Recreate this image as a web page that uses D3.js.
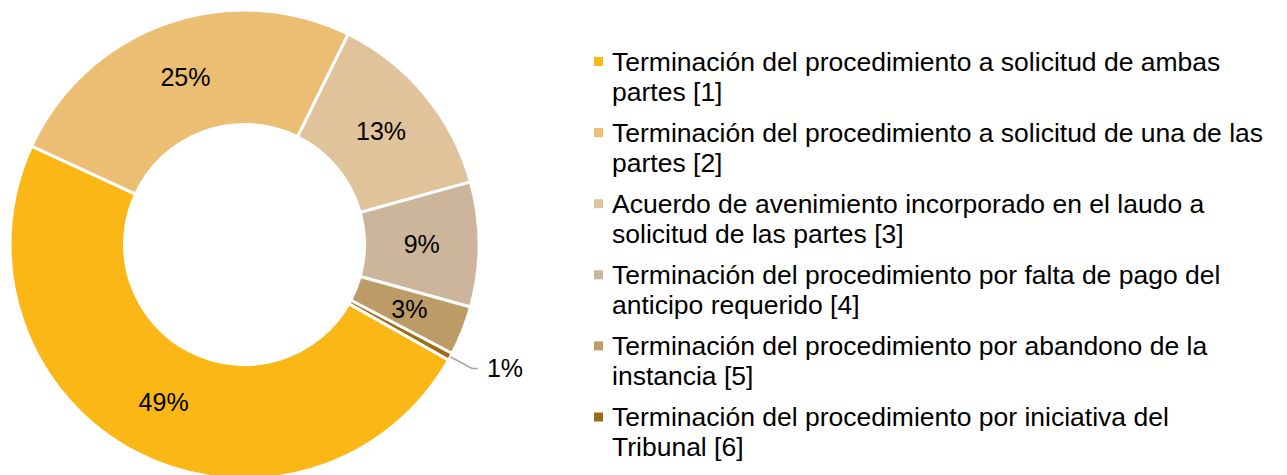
<!DOCTYPE html>
<html>
<head>
<meta charset="utf-8">
<script src="https://cdn.jsdelivr.net/npm/d3@7"></script>
<style>
  html, body { margin: 0; padding: 0; background: #fff; }
  svg { display: block; font-family: "Liberation Sans", Arial, sans-serif; }
</style>
</head>
<body>
<div id="chart"></div>
<script>
// chart data
const categories = [
    'Terminación del procedimiento a solicitud de ambas partes [1]',
    'Terminación del procedimiento a solicitud de una de las partes [2]',
    'Acuerdo de avenimiento incorporado en el laudo a solicitud de las partes [3]',
    'Terminación del procedimiento por falta de pago del anticipo requerido [4]',
    'Terminación del procedimiento por abandono de la instancia [5]',
    'Terminación del procedimiento por iniciativa del Tribunal [6]'
];
const shares = [48.7, 25.4, 13.4, 8.6, 3.4, 0.5];
const colors = ['#FBB715', '#EBBE73', '#E0C39B', '#CCB59B', '#BD9B66', '#9C6B14'];

const width = 1287, height = 475;
const cx = 244.5, cy = 244.5;
const outerR = 234.5, innerR = 120;
const startDeg = 119.5;
const labelFont = 25, legendFont = 26.5;

const svg = d3.select('#chart').append('svg')
    .attr('width', width)
    .attr('height', height);

const pie = d3.pie()
    .sort(null)
    .value(d => d)
    .startAngle(startDeg * Math.PI / 180)
    .endAngle(startDeg * Math.PI / 180 + 2 * Math.PI);

const arc = d3.arc().innerRadius(innerR).outerRadius(outerR);
const total = d3.sum(shares);
const arcs = pie(shares);

const g = svg.append('g').attr('transform', `translate(${cx},${cy})`);

g.selectAll('path.slice')
    .data(arcs)
    .enter()
    .append('path')
    .attr('class', 'slice')
    .attr('d', arc)
    .attr('fill', (d, i) => colors[i])
    .attr('stroke', '#fff')
    .attr('stroke-width', 3)
    .attr('stroke-linejoin', 'round');

// labels: big slices inside, the tiny one outside with a leader line
arcs.forEach((d, i) => {
    const pct = Math.round(d.value / total * 100) + '%';
    if (d.endAngle - d.startAngle > 0.1) {
        const c = arc.centroid(d);
        g.append('text')
            .attr('x', c[0])
            .attr('y', c[1])
            .attr('dy', '0.35em')
            .attr('text-anchor', 'middle')
            .attr('fill', '#000')
            .style('font-size', labelFont + 'px')
            .text(pct);
    } else {
        const mid = (d.startAngle + d.endAngle) / 2;
        const p0 = [Math.sin(mid) * outerR, -Math.cos(mid) * outerR];
        const p1 = [Math.sin(mid) * 259, -Math.cos(mid) * 259];
        const p2 = [p1[0] + 6, p1[1]];
        g.append('polyline')
            .attr('points', [p0, p1, p2].map(p => p.join(',')).join(' '))
            .attr('fill', 'none')
            .attr('stroke', '#A6A6A6')
            .attr('stroke-width', 1.5);
        g.append('text')
            .attr('x', p2[0] + 9)
            .attr('y', p2[1])
            .attr('dy', '0.35em')
            .attr('text-anchor', 'start')
            .attr('fill', '#000')
            .style('font-size', labelFont + 'px')
            .text(pct);
    }
});

// legend
const legendX = 612, legendY = 70.5, entryGap = 71.1, lineGap = 30;
const wrapWidth = 653;

function wrapLines(str) {
    const probe = svg.append('text').style('font-size', legendFont + 'px');
    const words = str.split(/\s+/);
    const lines = [];
    let line = [];
    words.forEach(w => {
        line.push(w);
        probe.text(line.join(' '));
        if (probe.node().getComputedTextLength() > wrapWidth && line.length > 1) {
            line.pop();
            lines.push(line.join(' '));
            line = [w];
        }
    });
    lines.push(line.join(' '));
    probe.remove();
    return lines;
}

const legend = svg.selectAll('g.legend')
    .data(categories)
    .enter()
    .append('g')
    .attr('class', 'legend')
    .attr('transform', (d, i) => `translate(0,${legendY + i * entryGap})`);

legend.append('rect')
    .attr('x', 594)
    .attr('y', -13.5)
    .attr('width', 9)
    .attr('height', 9)
    .attr('fill', (d, i) => colors[i]);

legend.append('text')
    .attr('fill', '#000')
    .style('font-size', legendFont + 'px')
    .each(function(d) {
        const t = d3.select(this);
        wrapLines(d).forEach((ln, k) => {
            t.append('tspan')
                .attr('x', legendX)
                .attr('y', k * lineGap)
                .text(ln);
        });
    });
</script>
</body>
</html>
